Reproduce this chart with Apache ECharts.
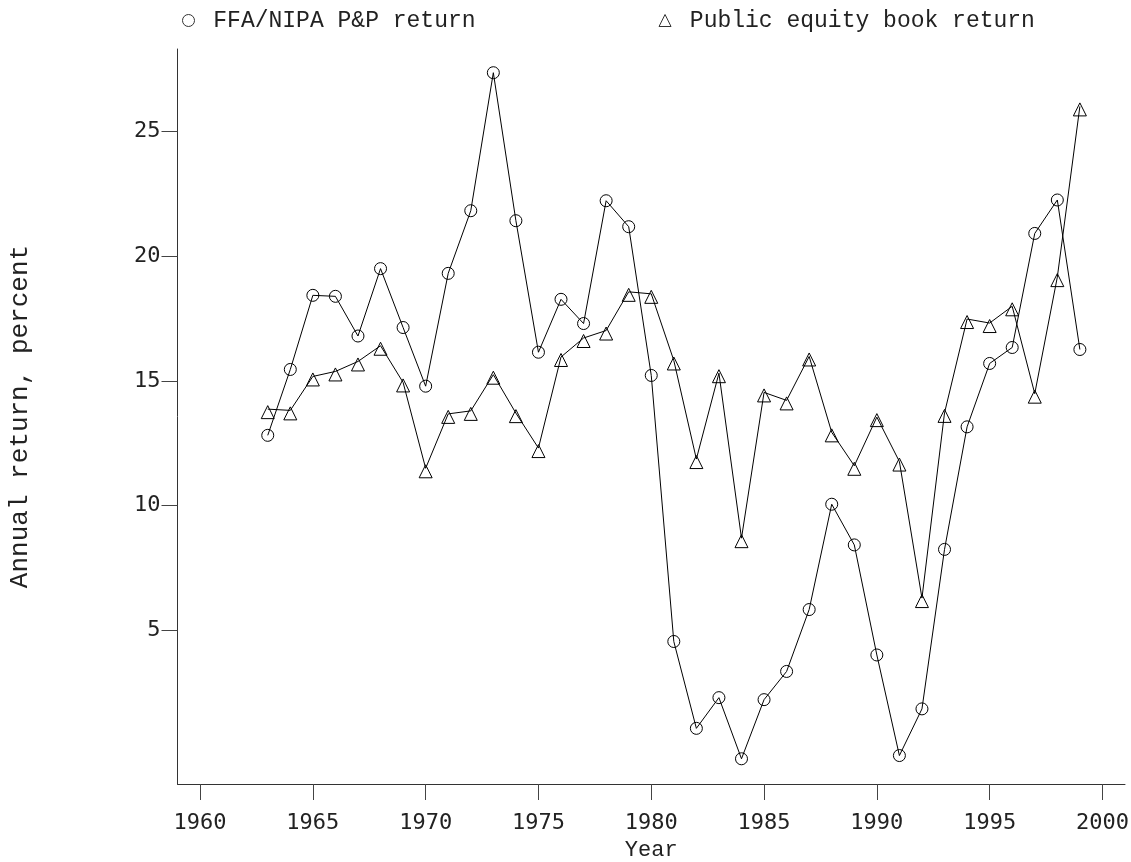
<!DOCTYPE html>
<html>
<head>
<meta charset="utf-8">
<script src="https://cdn.jsdelivr.net/npm/echarts@6/dist/echarts.min.js"></script>
<style>
  html, body { margin: 0; padding: 0; background: #fff; }
  #chart { width: 1131px; height: 862px; }
</style>
</head>
<body>
<div id="chart"></div>
<script>
// years 1963..1999
const years = [1963, 1964, 1965, 1966, 1967, 1968, 1969, 1970, 1971, 1972,
  1973, 1974, 1975, 1976, 1977, 1978, 1979, 1980, 1981, 1982,
  1983, 1984, 1985, 1986, 1987, 1988, 1989, 1990, 1991, 1992,
  1993, 1994, 1995, 1996, 1997, 1998, 1999];

// FFA/NIPA P&P return (circles)
const ffaReturn = [12.82, 15.46, 18.43, 18.39, 16.8, 19.5, 17.14, 14.79, 19.31, 21.82,
  27.35, 21.42, 16.15, 18.27, 17.3, 22.22, 21.18, 15.22, 4.56, 1.08,
  2.31, -0.14, 2.23, 3.36, 5.84, 10.06, 8.43, 4.02, -0.01, 1.86,
  8.25, 13.16, 15.7, 16.34, 20.91, 22.25, 16.26];

// Public equity book return (triangles)
const bookReturn = [13.87, 13.82, 15.18, 15.38, 15.78, 16.41, 14.94, 11.5, 13.68, 13.8,
  15.25, 13.71, 12.31, 15.96, 16.72, 17.02, 18.57, 18.49, 15.82, 11.87,
  15.31, 8.7, 14.54, 14.22, 15.98, 12.94, 11.6, 13.55, 11.77, 6.3,
  13.72, 17.48, 17.32, 17.99, 14.49, 19.16, 26.0];

const xTicks = [1960, 1965, 1970, 1975, 1980, 1985, 1990, 1995, 2000];
const yTicks = [5, 10, 15, 20, 25];

const seriesNames = ['FFA/NIPA P&P return', 'Public equity book return'];

const mono = 'Liberation Mono, Courier New, monospace';
const tickFont = 'DejaVu Sans Mono, monospace';

let chart = echarts.init(document.getElementById('chart'));

function pairs(vals) {
  return years.map((y, i) => [y, vals[i]]);
}

chart.setOption({
  animation: false,
  backgroundColor: '#fff',
  grid: { left: 177.5, right: 6, top: 49, bottom: 78, outerBoundsMode: 'none' },
  legend: {
    left: 177,
    top: 4,
    itemGap: 183,
    itemWidth: 12,
    itemHeight: 12,
    formatter: name => ' ' + name,
    textStyle: { fontFamily: mono, fontSize: 23, color: '#222' },
    data: [
      { name: seriesNames[0], icon: 'circle' },
      { name: seriesNames[1], icon: 'triangle' }
    ],
    itemStyle: { color: 'transparent', borderColor: '#333', borderWidth: 1 }
  },
  xAxis: {
    type: 'value',
    min: 1959,
    max: 2001,
    name: 'Year',
    nameLocation: 'middle',
    nameGap: 53,
    nameTextStyle: { fontFamily: mono, fontSize: 22, color: '#222' },
    axisLine: { show: true, onZero: false, lineStyle: { color: '#333', width: 1 } },
    axisTick: { show: true, length: 16, inside: false, customValues: xTicks, lineStyle: { color: '#444' } },
    axisLabel: {
      customValues: xTicks, margin: 28, fontFamily: tickFont, fontSize: 22, color: '#222',
      formatter: v => String(v)
    },
    splitLine: { show: false }
  },
  yAxis: {
    type: 'value',
    min: -1.15,
    max: 28.3,
    name: 'Annual return, percent',
    nameLocation: 'middle',
    nameRotate: 90,
    nameGap: 144,
    nameTextStyle: { fontFamily: mono, fontSize: 26, color: '#222' },
    axisLine: { show: true, onZero: false, lineStyle: { color: '#333', width: 1 } },
    axisTick: { show: true, length: 16, inside: false, customValues: yTicks, lineStyle: { color: '#444' } },
    axisLabel: { customValues: yTicks, margin: 17, fontFamily: tickFont, fontSize: 22, color: '#222' },
    splitLine: { show: false }
  },
  series: [
    {
      name: seriesNames[0],
      type: 'line',
      data: pairs(ffaReturn),
      symbol: 'circle',
      symbolSize: 12,
      showAllSymbol: true,
      lineStyle: { color: '#000', width: 1 },
      itemStyle: { color: 'transparent', borderColor: '#000', borderWidth: 1 }
    },
    {
      name: seriesNames[1],
      type: 'line',
      data: pairs(bookReturn),
      symbol: 'triangle',
      symbolSize: 13,
      symbolOffset: [0, 3],
      showAllSymbol: true,
      lineStyle: { color: '#000', width: 1 },
      itemStyle: { color: 'transparent', borderColor: '#000', borderWidth: 1 }
    }
  ]
});
</script>
</body>
</html>
